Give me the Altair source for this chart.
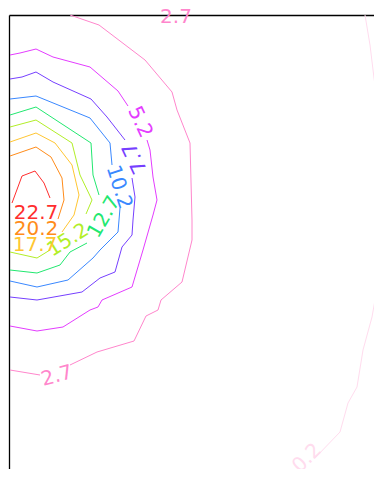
import altair as alt
import pandas as pd

# contour levels and colours
levels = ["0.2", "2.7", "5.2", "7.7", "10.2", "12.7", "15.2", "17.7", "20.2", "22.7"]
colors = ["#ffdcee", "#ff86cc", "#e43cff", "#7640ff", "#3a88ff",
          "#22e870", "#b2ee28", "#ffc632", "#ff8c1a", "#ff2e2e"]

# contour polylines (x, y in plot units; y grows downward)
c02_x = [365, 370, 374, 377, 377, 375, 376, 377, 375, 372, 363, 357, 348, 340, 315]
c02_y = [15, 45, 78, 100, 130, 160, 200, 250, 300, 317, 350, 387, 403, 432, 458]

c27a_x = [70, 99, 145, 172, 177, 190, 192, 192, 182, 161, 158, 146, 134, 97, 70]
c27a_y = [15, 25, 60, 92, 110, 143, 220, 240, 282, 300, 310, 316, 341, 352, 365]
c27b_x = [40, 10]
c27b_y = [375, 370]

c52a_x = [10, 20, 36, 53, 90, 118, 128]
c52a_y = [55, 53, 49, 57, 67, 91, 106]
c52b_x = [147, 150, 153, 157, 153, 145, 143, 132, 102, 98, 90, 63, 37, 10]
c52b_y = [140, 150, 177, 200, 215, 243, 250, 287, 300, 307, 310, 327, 331, 326]

c77a_x = [10, 22, 36, 53, 91, 107, 125]
c77a_y = [79, 77, 72, 82, 99, 117, 140]
c77b_x = [132, 135, 133, 132, 122, 115, 100, 82, 37, 10]
c77b_y = [178, 197, 220, 235, 247, 272, 278, 292, 300, 297]

c102a_x = [10, 36, 90, 110, 112]
c102a_y = [99, 96, 118, 143, 165]
c102b_x = [120, 118, 100, 93, 68, 37, 10]
c102b_y = [208, 232, 250, 258, 280, 287, 281]

c127a_x = [10, 36, 91, 93, 99]
c127a_y = [115, 107, 143, 175, 195]
c127b_x = [87, 70, 60, 37, 10]
c127b_y = [243, 252, 265, 273, 270]

c152a_x = [10, 36, 72, 80, 92, 86]
c152a_y = [127, 120, 143, 175, 200, 214]
c152b_x = [50, 37, 10]
c152b_y = [250, 258, 252]

c177a_x = [10, 36, 55, 72, 79, 74, 62]
c177a_y = [142, 133, 143, 165, 195, 215, 232]

c202a_x = [10, 36, 51, 62, 64, 58]
c202a_y = [156, 147, 157, 178, 200, 219]

c227a_x = [12, 22, 35, 44, 50]
c227a_y = [203, 176, 171, 183, 198]

segments = [
    ("0.2", c02_x, c02_y), ("2.7", c27a_x, c27a_y), ("2.7", c27b_x, c27b_y),
    ("5.2", c52a_x, c52a_y), ("5.2", c52b_x, c52b_y),
    ("7.7", c77a_x, c77a_y), ("7.7", c77b_x, c77b_y),
    ("10.2", c102a_x, c102a_y), ("10.2", c102b_x, c102b_y),
    ("12.7", c127a_x, c127a_y), ("12.7", c127b_x, c127b_y),
    ("15.2", c152a_x, c152a_y), ("15.2", c152b_x, c152b_y),
    ("17.7", c177a_x, c177a_y), ("20.2", c202a_x, c202a_y), ("22.7", c227a_x, c227a_y),
]

# inline contour labels
label_text = ["2.7", "5.2", "7.7", "10.2", "12.7", "15.2", "17.7", "20.2", "22.7", "2.7", "0.2"]
label_x = [176, 140, 135, 119, 104, 68, 35, 36, 36, 57, 307]
label_y = [17, 122, 158, 187, 217, 240, 245, 229, 213, 376, 458]
label_angle = [0, 65, 245, 72, 300, 328, 0, 0, 0, 345, 315]

rows = []
for i, (lvl, xs_, ys_) in enumerate(segments):
    for j, (x, y) in enumerate(zip(xs_, ys_)):
        rows.append({"seg": i, "ord": j, "level": lvl, "x": x, "y": y})
lines_df = pd.DataFrame(rows)
labels_df = pd.DataFrame({"text": label_text, "level": label_text, "x": label_x,
                          "y": label_y, "angle": label_angle})

xs = alt.Scale(domain=[9, 374], nice=False, zero=False)
ys = alt.Scale(domain=[15, 469], nice=False, zero=False, reverse=True)
cs = alt.Scale(domain=levels, range=colors)

lines = alt.Chart(lines_df).mark_line(strokeWidth=1, clip=True).encode(
    x=alt.X("x:Q", scale=xs,
            axis=alt.Axis(orient="top", labels=False, ticks=False, grid=False,
                          domainColor="black", domainWidth=1.3, title=None)),
    y=alt.Y("y:Q", scale=ys,
            axis=alt.Axis(orient="left", labels=False, ticks=False, grid=False,
                          domainColor="black", domainWidth=1.3, title=None)),
    color=alt.Color("level:N", scale=cs, legend=None),
    detail="seg:N",
    order="ord:Q",
)

texts = alt.Chart(labels_df).mark_text(
    font="DejaVu Sans", fontSize=20, align="center", baseline="middle"
).encode(
    x=alt.X("x:Q", scale=xs),
    y=alt.Y("y:Q", scale=ys),
    text="text:N",
    angle=alt.Angle("angle:Q", scale=None),
    color=alt.Color("level:N", scale=cs, legend=None),
)

chart = alt.layer(lines, texts).properties(
    width=365, height=454,
    autosize=alt.AutoSizeParams(type="none"),
    padding={"left": 1, "top": 7, "right": 0, "bottom": 0},
).configure_view(stroke=None)

chart.save("out.html", embed_options={"renderer": "svg", "actions": False})
